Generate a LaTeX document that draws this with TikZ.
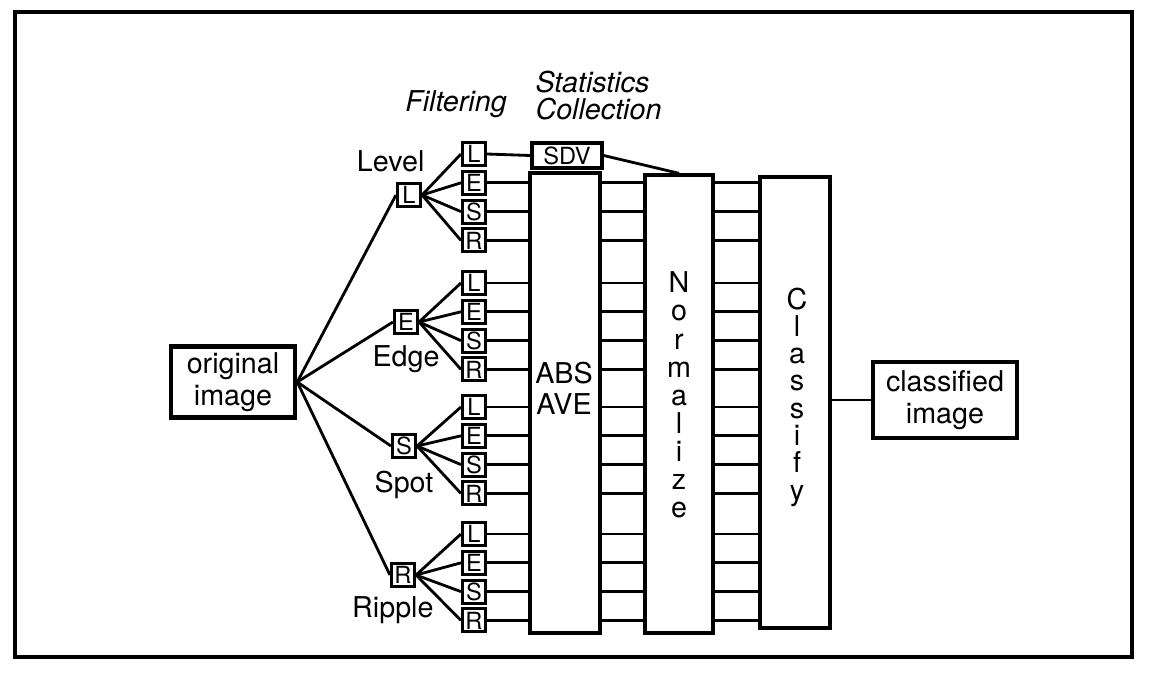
\documentclass[tikz,border=0pt]{standalone}
\usepackage{fontspec}
\setmainfont{TeX Gyre Heros}
\usepackage{tikz}
\usetikzlibrary{arrows.meta,calc,positioning}
\newcommand\pxu{0.0125cm}

\begin{document}
\begin{tikzpicture}[x=0.0125cm,y=-0.0125cm,>=Stealth,
		blk/.style={draw,line width=1.2pt,inner sep=0pt},
		io/.style={draw,line width=1.6pt,inner sep=0pt,align=center,font=\fontsize{10.2}{11.5}\selectfont},
		tap/.style={draw,line width=1.1pt,inner sep=0pt,minimum width=23*\pxu,minimum height=23*\pxu,font=\fontsize{8.4}{9}\selectfont},
		lbl/.style={inner sep=0pt,font=\fontsize{10.2}{12}\selectfont},
		head/.style={inner sep=0pt,align=left,font=\fontsize{10.2}{9.3}\selectfont\itshape},
		vtext/.style={inner sep=0pt,align=center,font=\fontsize{10.2}{10}\selectfont},
		wire/.style={line width=1pt}]
		\useasboundingbox (0,0) rectangle (1151,673);
		\draw[line width=1.5pt] (15,12) rectangle (1132,657);
		\node[io,minimum width=124*\pxu,minimum height=71*\pxu] (orig) at (233,382) {original\\image};
		\node[io,minimum width=144*\pxu,minimum height=76*\pxu] (classified) at (945,400) {classified\\image};
		\node[blk,minimum width=70*\pxu,minimum height=25*\pxu,font=\fontsize{8.4}{9}\selectfont] (sdv) at (567,155.5) {SDV};
		\node[blk,minimum width=70*\pxu,minimum height=460*\pxu] (abs) at (565,403) {};
		\node[blk,minimum width=68*\pxu,minimum height=458*\pxu] (norm) at (679,404) {};
		\node[blk,minimum width=70*\pxu,minimum height=451*\pxu] (cls) at (795,402.5) {};
		\node[vtext,font=\fontsize{10.2}{11}\selectfont] (abstxt) at (564,388) {ABS\\AVE};
		\node[vtext] (normtxt) at (679,395) {N\\o\\r\\m\\a\\l\\i\\z\\e};
		\node[vtext,font=\fontsize{10.2}{9.7}\selectfont] (clstxt) at (797,397) {C\\l\\a\\s\\s\\i\\f\\y};
		\node[head,anchor=base] (hfilt) at (456,111) {Filtering};
		\node[head,anchor=north west] (hstat) at (535,71) {Statistics\\Collection};
		\node[tap] (gL) at (409,195) {L};
		\node[tap] (gE) at (406,322) {E};
		\node[tap] (gS) at (404,446) {S};
		\node[tap] (gR) at (403,575) {R};
		\node[lbl,above=3.2pt of gL,xshift=-6.5pt] (tL) {Level};
		\node[lbl,below=3.4pt of gE] (tE) {Edge};
		\node[lbl,below=4.2pt of gS] (tS) {Spot};
		\node[lbl,below=3pt of gR,xshift=-3.6pt] (tR) {Ripple};
		\foreach \g/\gy in {L/154,E/283,S/407,R/534}{
			\foreach \k [count=\i from 0] in {L,E,S,R}
				\node[tap] (f\g\k) at (474,\gy+28.8*\i) {\k};
		}
		\foreach \g in {L,E,S,R}{
			\draw[wire] (orig.east) -- (g\g.west);
			\foreach \k in {L,E,S,R}
				\draw[wire] (g\g.east) -- (f\g\k.west);
		}
		\draw[wire] (fLL.east) -- (sdv.west);
		\draw[wire] (sdv.east) -- (norm.north);
		\foreach \g/\k in {L/E,L/S,L/R,E/L,E/E,E/S,E/R,S/L,S/E,S/S,S/R,R/L,R/E,R/S,R/R}{
			\draw[wire] (f\g\k.east) -- (f\g\k.east -| abs.west);
			\draw[wire] (f\g\k.east -| abs.east) -- (f\g\k.east -| norm.west);
			\draw[wire] (f\g\k.east -| norm.east) -- (f\g\k.east -| cls.west);
		}
		\draw[wire] (classified.west -| cls.east) -- (classified.west);
\end{tikzpicture}
\end{document}
